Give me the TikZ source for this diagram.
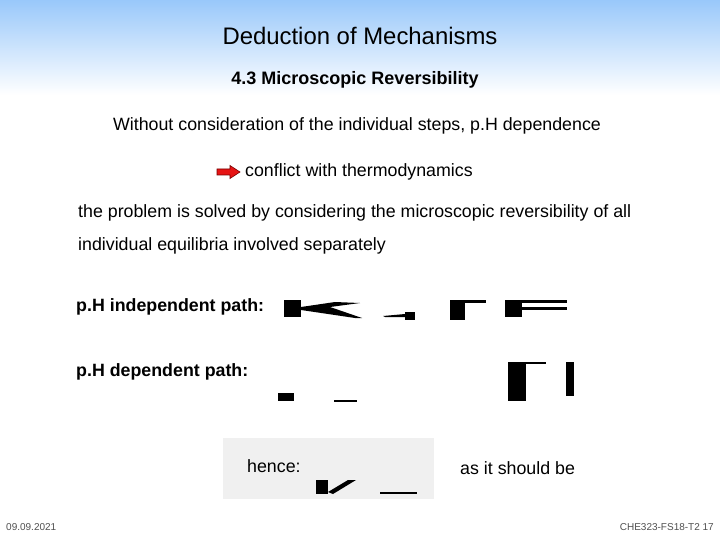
\documentclass[tikz,border=0pt]{standalone}
\usepackage{fontspec}
\setmainfont{Liberation Sans}
\definecolor{topblue}{RGB}{153,200,250}
\definecolor{arrdark}{RGB}{120,0,0}
\definecolor{arrred}{RGB}{230,20,20}
\definecolor{boxgray}{RGB}{240,240,240}
\definecolor{footgray}{RGB}{80,80,80}
\begin{document}
\begin{tikzpicture}[x=1pt,y=-1pt,
  txt/.style={anchor=west,inner sep=0pt,font=\fontsize{17.8}{20}\selectfont},
  blk/.style={fill=black,draw=none}]
\useasboundingbox (0,0) rectangle (720,540);
\fill[white] (0,0) rectangle (720,540);
\shade[top color=topblue, bottom color=white] (0,0) rectangle (720,95);
\node[inner sep=0pt,font=\fontsize{23.9}{26}\selectfont] (title) at (360,36) {Deduction of Mechanisms};
\node[inner sep=0pt,font=\bfseries\fontsize{18}{20}\selectfont] (sub) at (355,80) {4.3 Microscopic Reversibility};
\node[inner sep=0pt,font=\fontsize{17.8}{20}\selectfont] (l1) at (357,126) {Without consideration of the individual steps, p.H dependence};
\node[txt] (l2) at (245,172) {conflict with thermodynamics};
\draw[draw=arrdark,fill=arrred,line width=0.6pt]
  (217,169) -- (230,169) -- (230,165.5) -- (240,172) -- (230,178.5) -- (230,175) -- (217,175) -- cycle;
\node[txt] (l3) at (78,213) {the problem is solved by considering the microscopic reversibility of all};
\node[txt] (l4) at (78,246) {individual equilibria involved separately};
\node[txt,font=\bfseries\fontsize{17.8}{20}\selectfont] (p1) at (76,307) {p.H independent path:};
\node[txt,font=\bfseries\fontsize{17.8}{20}\selectfont] (p2) at (76,372) {p.H dependent path:};
% image fragments row 1
\fill[blk] (284,300) rectangle (301,317);
\fill[blk] (301,307) -- (335,302) -- (360,303) -- (330,307) -- (362,318) -- (355,318) -- (301,310) -- cycle;
\fill[blk] (383,316) -- (405,314) -- (405,317) -- (385,317) -- cycle;
\fill[blk] (405,312) rectangle (415,320);
\fill[blk] (450,300) rectangle (465,320);
\fill[blk] (465,300) rectangle (486,303);
\fill[blk] (505,300) rectangle (522,317);
\fill[blk] (522,300) rectangle (567,303);
\fill[blk] (522,307) rectangle (567,310);
% row 2
\fill[blk] (278,393) rectangle (294,401);
\fill[blk] (334,400) rectangle (357,401.5);
\fill[blk] (508,362) rectangle (526,401);
\fill[blk] (526,362) rectangle (546,364);
\fill[blk] (566,362) rectangle (574,396);
% hence box
\fill[boxgray] (223,438) rectangle (434,499);
\node[txt] (h) at (247,466) {hence:};
\fill[blk] (316,480) rectangle (328,494);
\fill[blk] (328,492) -- (348,480) -- (356,480) -- (333,494) -- cycle;
\fill[blk] (380,492) rectangle (417,493.5);
\node[txt] (a) at (460,468) {as it should be};
\node[inner sep=0pt,anchor=west,font=\fontsize{10}{11}\selectfont,text=footgray] (d) at (6,527) {09.09.2021};
\node[inner sep=0pt,anchor=east,font=\fontsize{10}{11}\selectfont,text=footgray] (c) at (714,527) {CHE323-FS18-T2 17};
\end{tikzpicture}
\end{document}
